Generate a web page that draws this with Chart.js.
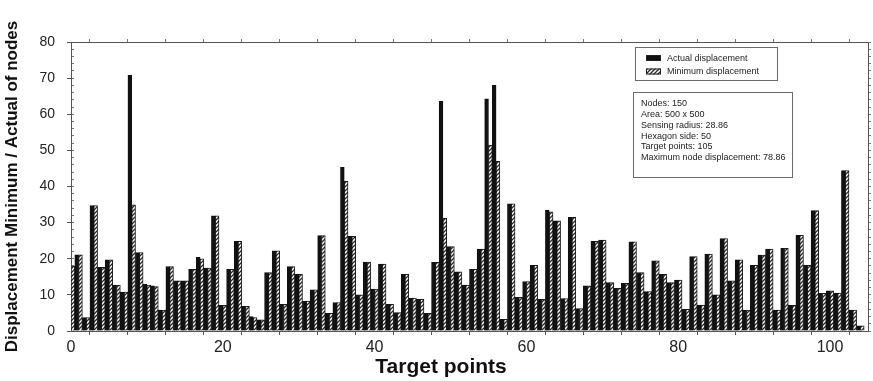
<!DOCTYPE html>
<html>
<head>
<meta charset="utf-8">
<script src="https://cdn.jsdelivr.net/npm/chart.js@4.4.1/dist/chart.umd.min.js"></script>
<style>
html,body{margin:0;padding:0;background:#fff;}
#wrap{position:relative;width:873px;height:381px;}
</style>
</head>
<body>
<div id="wrap"><canvas id="c" width="873" height="381"></canvas></div>
<script>
// ---- data ----
const targetPoints = [
  0,1,2,3,4,5,6,7,8,9,10,11,12,13,14,15,16,17,18,19,
  20,21,22,23,24,25,26,27,28,29,30,31,32,33,34,35,36,37,38,39,
  40,41,42,43,44,45,46,47,48,49,50,51,52,53,54,55,56,57,58,59,
  60,61,62,63,64,65,66,67,68,69,70,71,72,73,74,75,76,77,78,79,
  80,81,82,83,84,85,86,87,88,89,90,91,92,93,94,95,96,97,98,99,
  100,101,102,103,104
];
const actualDisplacement = [
  18.0,21.1,3.7,34.7,17.6,19.7,12.7,10.8,70.8,21.7,13.0,12.5,5.8,17.8,13.9,13.9,17.1,20.4,17.4,31.9,
  7.1,17.1,24.8,6.8,4.0,3.1,16.2,22.2,7.4,17.8,15.7,8.3,11.4,26.4,4.9,7.9,45.3,26.2,10.0,19.1,
  11.6,18.5,7.4,5.1,15.7,9.1,8.8,4.9,19.0,63.6,23.4,16.4,12.7,17.1,22.7,64.3,68.0,3.2,35.2,9.3,
  13.7,18.2,8.8,33.5,30.5,9.0,31.5,6.2,12.5,24.8,25.2,13.4,11.8,13.2,24.7,16.2,10.9,19.4,15.7,13.4,
  14.1,6.0,20.6,7.2,21.3,10.0,25.6,13.9,19.7,5.8,18.2,21.0,22.7,5.8,22.9,7.1,26.5,18.2,33.3,10.4,
  11.1,10.5,44.4,5.8,1.4
];
const minimumDisplacement = [
  18.0,21.1,3.7,34.7,17.6,19.7,12.7,10.8,34.9,21.7,12.7,12.3,5.8,17.8,13.9,13.9,17.1,20.0,17.4,31.9,
  7.1,17.1,24.8,6.8,3.7,3.1,16.2,22.2,7.4,17.8,15.7,8.3,11.4,26.4,4.9,7.9,41.4,26.2,10.0,19.1,
  11.6,18.5,7.4,5.1,15.7,9.1,8.8,4.9,19.0,31.2,23.4,16.4,12.7,17.1,22.7,51.5,47.0,3.2,35.2,9.3,
  13.7,18.2,8.8,33.0,30.5,9.0,31.5,6.2,12.5,24.8,25.2,13.4,11.8,13.2,24.7,16.2,10.9,19.4,15.7,13.4,
  14.1,6.0,20.6,7.2,21.3,10.0,25.6,13.9,19.7,5.8,18.2,21.0,22.7,5.8,22.9,7.1,26.5,18.2,33.3,10.4,
  11.1,10.5,44.4,5.8,1.4
];
const xTickLabels = [0, 20, 40, 60, 80, 100];
const yTickLabels = [0, 10, 20, 30, 40, 50, 60, 70, 80];
const seriesNames = ['Actual displacement', 'Minimum displacement'];
const infoLines = [
  'Nodes: 150',
  'Area: 500 x 500',
  'Sensing radius: 28.86',
  'Hexagon side: 50',
  'Target points: 105',
  'Maximum node displacement: 78.86'
];
const xTitle = 'Target points';
const yTitle = 'Displacement Minimum / Actual of nodes';

// ---- drawing ----
const canvas = document.getElementById('c');
const ctx = canvas.getContext('2d');

function makeHatch() {
  const p = document.createElement('canvas');
  p.width = 4; p.height = 4;
  const g = p.getContext('2d');
  g.fillStyle = '#ffffff';
  g.fillRect(0, 0, 4, 4);
  g.strokeStyle = '#2a2a2a';
  g.lineWidth = 1.3;
  g.beginPath();
  g.moveTo(-1, 5); g.lineTo(5, -1);
  g.moveTo(-1, 1); g.lineTo(1, -1);
  g.moveTo(3, 5); g.lineTo(5, 3);
  g.stroke();
  return ctx.createPattern(p, 'repeat');
}
const hatch = makeHatch();
const FONT = '"Liberation Sans", Arial, sans-serif';
const NARROW = '"Liberation Sans Narrow", "Liberation Sans", Arial, sans-serif';

const boxesPlugin = {
  id: 'boxes',
  afterDraw(chart) {
    const c = chart.ctx;
    c.save();
    // x axis title, centred on the page as in the reference
    c.fillStyle = '#111';
    c.font = 'bold 21px ' + FONT;
    c.textAlign = 'center';
    c.textBaseline = 'middle';
    c.fillText(xTitle, 441, 367);
    c.textAlign = 'left';
    // legend box
    c.fillStyle = '#fff';
    c.strokeStyle = '#6a6a6a';
    c.lineWidth = 1;
    c.fillRect(635.5, 47.5, 142, 33);
    c.strokeRect(635.5, 47.5, 142, 33);
    c.font = '9px ' + FONT;
    chart.data.datasets.forEach((ds, k) => {
      const cy = 58 + k * 13.5;
      c.fillStyle = ds.backgroundColor;
      c.fillRect(646, cy - 3, 15, 6);
      c.strokeStyle = '#222';
      c.strokeRect(646.5, cy - 2.5, 14, 5);
      c.fillStyle = '#222';
      c.fillText(ds.label, 667, cy + 0.5);
    });
    // info box
    c.fillStyle = '#fff';
    c.strokeStyle = '#6a6a6a';
    c.fillRect(633.5, 92.5, 159, 85);
    c.strokeRect(633.5, 92.5, 159, 85);
    c.fillStyle = '#222';
    infoLines.forEach((t, k) => {
      c.fillText(t, 641, 103.5 + k * 10.85);
    });
    c.restore();
  }
};

new Chart(ctx, {
  type: 'bar',
  data: {
    datasets: [
      {
        label: seriesNames[0],
        data: actualDisplacement.map((v, i) => ({x: targetPoints[i], y: v})),
        backgroundColor: '#111111',
        borderColor: '#111111',
        borderWidth: 1,
        xAxisID: 'x', yAxisID: 'y',
        clip: 0
      },
      {
        label: seriesNames[1],
        data: minimumDisplacement.map((v, i) => ({x: targetPoints[i], y: v})),
        backgroundColor: hatch,
        borderColor: '#1a1a1a',
        borderWidth: 1,
        xAxisID: 'x', yAxisID: 'y',
        clip: 0
      }
    ]
  },
  options: {
    responsive: false,
    animation: false,
    devicePixelRatio: 1,
    layout: {padding: 0},
    categoryPercentage: 1,
    barPercentage: 1,
    plugins: {legend: {display: false}, tooltip: {enabled: false}},
    scales: {
      x: {
        type: 'linear', position: 'bottom', min: 0, max: 105, offset: false,
        ticks: {
          stepSize: 5, autoSkip: false, maxRotation: 0, maxTicksLimit: 100,
          callback: v => xTickLabels.includes(v) ? String(v) : '',
          font: {family: NARROW, size: 16}, color: '#222', padding: 3
        },
        grid: {drawOnChartArea: false, tickLength: 4, color: '#555'},
        border: {color: '#555', width: 1},
        title: {display: false},
        afterFit: s => { s.height = 50; }
      },
      x2: {
        type: 'linear', position: 'top', min: 0, max: 105, offset: false,
        ticks: {stepSize: 5, autoSkip: false, maxTicksLimit: 100, callback: () => '', padding: 0},
        grid: {drawOnChartArea: false, tickLength: 3, color: '#777'},
        border: {color: '#555', width: 1},
        afterFit: s => { s.height = 42; }
      },
      y: {
        type: 'linear', position: 'left', min: 0, max: 80,
        ticks: {
          stepSize: 10, autoSkip: false,
          callback: v => yTickLabels.includes(v) ? String(v) : '',
          font: {family: FONT, size: 14}, color: '#222', padding: 12
        },
        grid: {drawOnChartArea: false, tickLength: 4, color: '#555'},
        border: {color: '#555', width: 1},
        title: {display: true, text: yTitle, color: '#111',
          font: {family: FONT, size: 17, weight: 'bold'}, padding: {top: 2, bottom: 0}},
        afterFit: s => { s.width = 71; }
      },
      yMinor: {
        type: 'linear', position: 'left', weight: -1, min: 0, max: 80,
        ticks: {stepSize: 2, autoSkip: false, maxTicksLimit: 100, callback: () => '', padding: 0},
        grid: {drawOnChartArea: false, tickLength: -3, color: '#777'},
        border: {color: '#555', width: 1},
        afterFit: s => { s.width = 0; }
      },
      y2: {
        type: 'linear', position: 'right', min: 0, max: 80,
        ticks: {stepSize: 2, autoSkip: false, maxTicksLimit: 100, callback: () => '', padding: 0},
        grid: {drawOnChartArea: false, tickLength: 3, color: '#777'},
        border: {color: '#555', width: 1},
        afterFit: s => { s.width = 5; }
      }
    }
  },
  plugins: [boxesPlugin]
});
</script>
</body>
</html>
